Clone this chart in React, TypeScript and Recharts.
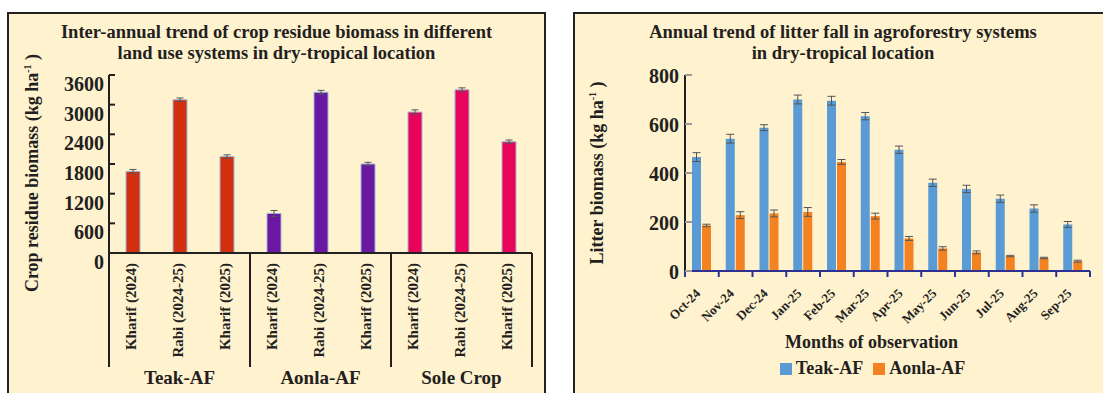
import { BarChart, Bar, XAxis, YAxis, ErrorBar, Cell, Legend, Label } from "recharts"

const SERIF = "'Liberation Serif', 'Times New Roman', serif"
const INK = "#231f20"
const CREAM = "#fff2cf"
const NAVY = "#2e3192"

// left panel: crop residue biomass
const cropSeasons = [
  "Kharif (2024)", "Rabi (2024-25)", "Kharif (2025)",
  "Kharif (2024)", "Rabi (2024-25)", "Kharif (2025)",
  "Kharif (2024)", "Rabi (2024-25)", "Kharif (2025)",
]
const cropSystems = [
  "Teak-AF", "Teak-AF", "Teak-AF",
  "Aonla-AF", "Aonla-AF", "Aonla-AF",
  "Sole Crop", "Sole Crop", "Sole Crop",
]
const cropResidue = [1650, 3100, 1950, 800, 3250, 1800, 2850, 3300, 2250]
const cropResidueSe = [40, 35, 35, 60, 40, 35, 45, 40, 35]
const cropTicks = [0, 600, 1200, 1800, 2400, 3000, 3600]
const systemColors: Record<string, string> = {
  "Teak-AF": "#d2300f",
  "Aonla-AF": "#6a17a2",
  "Sole Crop": "#e8045b",
}

// right panel: monthly litter fall
const months = ["Oct-24", "Nov-24", "Dec-24", "Jan-25", "Feb-25", "Mar-25", "Apr-25", "May-25", "Jun-25", "Jul-25", "Aug-25", "Sep-25"]
const teakLitter = [465, 540, 585, 700, 695, 632, 495, 360, 335, 295, 255, 190]
const teakLitterSe = [18, 18, 12, 18, 18, 15, 15, 15, 15, 15, 15, 12]
const aonlaLitter = [186, 228, 235, 241, 445, 224, 133, 92, 76, 61, 53, 40]
const aonlaLitterSe = [5, 14, 14, 18, 10, 12, 8, 7, 6, 3, 3, 4]
const litterTicks = [0, 200, 400, 600, 800]
const litterSeries = ["Teak-AF", "Aonla-AF"]

const cropData = cropSeasons.map((season, i) => ({
  season,
  system: cropSystems[i],
  biomass: cropResidue[i],
  se: cropResidueSe[i],
}))

const litterData = months.map((month, i) => ({
  month,
  teak: teakLitter[i],
  teakSe: teakLitterSe[i],
  aonla: aonlaLitter[i],
  aonlaSe: aonlaLitterSe[i],
}))

const bold = { fontFamily: SERIF, fontWeight: "bold" as const, fill: INK }

// plot widths, used for separators / boundary ticks
const CROP_PLOT_W = 423
const LITTER_PLOT_W = 405

function CropYTick({ x, y, payload }: any) {
  return (
    <g>
      <line x1={x + 5} x2={x + 11} y1={y} y2={y} stroke={INK} strokeWidth={2} />
      <text x={x} y={y} dy={9} textAnchor="end" dominantBaseline="central" fontSize={20} {...bold}>
        {payload.value}
      </text>
    </g>
  )
}

function SeasonTick({ x, y, payload }: any) {
  return (
    <text
      transform={`translate(${x - 2},${y + 10}) rotate(-90)`}
      textAnchor="end"
      dominantBaseline="central"
      fontSize={15}
      {...bold}
    >
      {payload.value}
    </text>
  )
}

function SystemTick({ x, y, payload }: any) {
  const half = CROP_PLOT_W / 3 / 2
  return (
    <g>
      <line x1={x - half} x2={x - half} y1={y - 114} y2={y} stroke={INK} strokeWidth={2} />
      <line x1={x + half} x2={x + half} y1={y - 114} y2={y} stroke={INK} strokeWidth={2} />
      <text x={x} y={y + 10} textAnchor="middle" dominantBaseline="central" fontSize={19} {...bold}>
        {payload.value}
      </text>
    </g>
  )
}

function LitterYTick({ x, y, payload }: any) {
  return (
    <g>
      <line x1={x + 6} x2={x + 13} y1={y} y2={y} stroke="#9a9a9a" strokeWidth={2} />
      <text x={x} y={y} dy={1} textAnchor="end" dominantBaseline="central" fontSize={20} {...bold}>
        {payload.value}
      </text>
    </g>
  )
}

function MonthTick({ x, y, payload, index }: any) {
  const half = LITTER_PLOT_W / months.length / 2
  return (
    <g>
      <line x1={x - half} x2={x - half} y1={y} y2={y + 6} stroke={NAVY} strokeWidth={2} />
      {index === months.length - 1 && (
        <line x1={x + half} x2={x + half} y1={y} y2={y + 6} stroke={NAVY} strokeWidth={2} />
      )}
      <text
        transform={`translate(${x - 4},${y + 20}) rotate(-45)`}
        textAnchor="end"
        dominantBaseline="central"
        fontSize={13}
        {...bold}
      >
        {payload.value}
      </text>
    </g>
  )
}

function LitterLegend({ payload }: any) {
  const items = [...(payload || [])].sort(
    (a: any, b: any) => litterSeries.indexOf(a.value) - litterSeries.indexOf(b.value)
  )
  return (
    <div
      style={{
        display: "flex",
        justifyContent: "center",
        gap: 10,
        paddingLeft: 30,
        paddingTop: 7,
        fontFamily: SERIF,
        fontWeight: "bold",
        fontSize: 18,
        color: INK,
      }}
    >
      {items.map((p: any) => (
        <span key={p.value} style={{ display: "flex", alignItems: "center" }}>
          <span style={{ width: 12, height: 12, background: p.color, marginRight: 4, display: "inline-block" }} />
          {p.value}
        </span>
      ))}
    </div>
  )
}

function Title({ left, width, lines }: { left: number; width: number; lines: string[] }) {
  return (
    <div
      style={{
        position: "absolute",
        left,
        top: 22,
        width,
        textAlign: "center",
        fontFamily: SERIF,
        fontWeight: "bold",
        fontSize: 18.5,
        lineHeight: "21px",
        color: INK,
        whiteSpace: "nowrap",
      }}
    >
      {lines.map((l) => (
        <div key={l}>{l}</div>
      ))}
    </div>
  )
}

function YTitle({ cx, cy, text }: { cx: number; cy: number; text: string }) {
  return (
    <div
      style={{
        position: "absolute",
        left: cx,
        top: cy,
        transform: "translate(-50%, -50%) rotate(-90deg)",
        fontFamily: SERIF,
        fontWeight: "bold",
        fontSize: 18,
        color: INK,
        whiteSpace: "nowrap",
      }}
    >
      {text} (kg ha<sup style={{ fontSize: 10 }}>-1</sup> )
    </div>
  )
}

function Panel({ left, width }: { left: number; width: number }) {
  return (
    <div
      style={{
        position: "absolute",
        left,
        top: 12,
        width,
        height: 400,
        background: CREAM,
        border: "2.5px solid #222",
        boxSizing: "border-box",
      }}
    />
  )
}

function CropResidueChart() {
  return (
    <div style={{ position: "absolute", left: 0, top: 0 }}>
      <BarChart
        width={546}
        height={393}
        data={cropData}
        margin={{ top: 75, right: 14, bottom: 0, left: 49 }}
        barSize={14}
      >
        <XAxis
          dataKey="season"
          height={114}
          interval={0}
          tick={<SeasonTick />}
          tickLine={false}
          tickSize={0}
          tickMargin={0}
          axisLine={{ stroke: INK, strokeWidth: 2 }}
        />
        <XAxis
          xAxisId="system"
          dataKey="system"
          allowDuplicatedCategory={false}
          height={26}
          interval={0}
          tick={<SystemTick />}
          tickLine={false}
          tickSize={0}
          tickMargin={0}
          axisLine={false}
        />
        <XAxis xAxisId="frame" orientation="top" dataKey="season" height={0} tick={false} tickLine={false} axisLine={{ stroke: INK, strokeWidth: 2 }} />
        <YAxis
          width={60}
          domain={[0, 3600]}
          ticks={cropTicks}
          interval={0}
          tick={<CropYTick />}
          tickLine={false}
          tickSize={0}
          tickMargin={5}
          axisLine={{ stroke: INK, strokeWidth: 2 }}
        />
        <YAxis yAxisId="frame" orientation="right" width={0} domain={[0, 3600]} tick={false} tickLine={false} axisLine={{ stroke: INK, strokeWidth: 2 }} />
        <Bar dataKey="biomass" isAnimationActive={false} stroke="#9db8d6" strokeWidth={1}>
          {cropData.map((d, i) => (
            <Cell key={i} fill={systemColors[d.system]} />
          ))}
          <ErrorBar dataKey="se" width={3.5} stroke="#555" strokeWidth={1} isAnimationActive={false} />
        </Bar>
      </BarChart>
    </div>
  )
}

function LitterChart() {
  return (
    <div style={{ position: "absolute", left: 560, top: 0 }}>
      <BarChart
        width={543}
        height={393}
        data={litterData}
        margin={{ top: 75, right: 13, bottom: 0, left: 65 }}
        barSize={9}
        barGap={1}
      >
        <XAxis
          dataKey="month"
          height={80}
          interval={0}
          tick={<MonthTick />}
          tickLine={false}
          tickSize={0}
          tickMargin={0}
          axisLine={{ stroke: NAVY, strokeWidth: 2 }}
        >
          <Label
            value="Months of observation"
            position="insideBottom"
            offset={3}
            dx={-16}
            style={{ fontFamily: SERIF, fontWeight: "bold", fontSize: 18, fill: INK }}
          />
        </XAxis>
        <XAxis xAxisId="frame" orientation="top" dataKey="month" height={0} tick={false} tickLine={false} axisLine={{ stroke: INK, strokeWidth: 2 }} />
        <YAxis
          width={60}
          domain={[0, 800]}
          ticks={litterTicks}
          interval={0}
          tick={<LitterYTick />}
          tickLine={false}
          tickSize={0}
          tickMargin={6}
          axisLine={{ stroke: INK, strokeWidth: 2 }}
        />
        <YAxis yAxisId="frame" orientation="right" width={0} domain={[0, 800]} tick={false} tickLine={false} axisLine={{ stroke: INK, strokeWidth: 2 }} />
        <Legend verticalAlign="bottom" height={42} content={<LitterLegend />} />
        <Bar dataKey="teak" name="Teak-AF" fill="#5b9bd5" isAnimationActive={false}>
          <ErrorBar dataKey="teakSe" width={4} stroke="#555" strokeWidth={1} isAnimationActive={false} />
        </Bar>
        <Bar dataKey="aonla" name="Aonla-AF" fill="#f58220" isAnimationActive={false}>
          <ErrorBar dataKey="aonlaSe" width={4} stroke="#555" strokeWidth={1} isAnimationActive={false} />
        </Bar>
      </BarChart>
    </div>
  )
}

export default function App() {
  return (
    <div style={{ position: "absolute", left: 0, top: 0, width: 1103, height: 393, overflow: "hidden", background: "#fff" }}>
      <Panel left={7} width={539} />
      <Panel left={573} width={545} />
      <Title
        left={7}
        width={539}
        lines={["Inter-annual trend of crop residue biomass in different", "land use systems in dry-tropical location"]}
      />
      <Title left={643} width={400} lines={["Annual trend of litter fall in agroforestry systems", "in dry-tropical location"]} />
      <YTitle cx={32} cy={173} text="Crop residue biomass" />
      <YTitle cx={597} cy={173} text="Litter biomass" />
      <CropResidueChart />
      <LitterChart />
    </div>
  )
}
